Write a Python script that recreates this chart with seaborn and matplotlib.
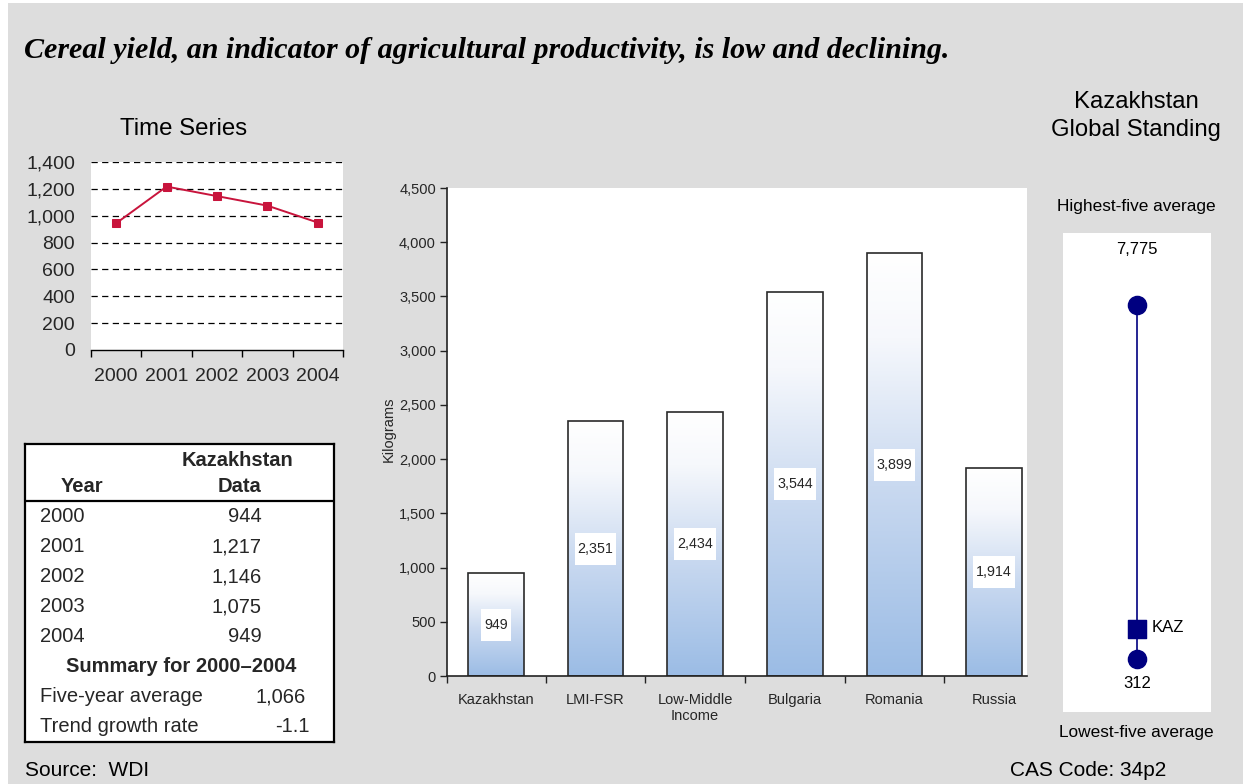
import numpy as np
import pandas as pd
import matplotlib
matplotlib.use("Agg")
import matplotlib.pyplot as plt
import seaborn as sns
from matplotlib.patches import Rectangle
from matplotlib.colors import LinearSegmentedColormap
from matplotlib.ticker import FuncFormatter

# ---- data -------------------------------------------------------------
years = ["2000", "2001", "2002", "2003", "2004"]
kaz_yield = [944, 1217, 1146, 1075, 949]
five_year_avg = "1,066"
trend_growth = "-1.1"

groups = ["Kazakhstan", "LMI-FSR", "Low-Middle\nIncome", "Bulgaria", "Romania", "Russia"]
group_yield = [949, 2351, 2434, 3544, 3899, 1914]

highest_five = 7775
lowest_five = 312
kaz_latest = 949

# ---- style ------------------------------------------------------------
sns.set_theme(style="white")
plt.rcParams["font.family"] = ["Liberation Sans", "DejaVu Sans"]

W, H = 1249, 784
fig = plt.figure(figsize=(W / 100, H / 100), dpi=100)
fig.patch.set_facecolor("white")

PANEL = "#DDDDDD"
RED = "#C8143C"
NAVY = "#000080"


def px_axes(x0, y0, x1, y1):
    return fig.add_axes([x0 / W, 1 - y1 / H, (x1 - x0) / W, (y1 - y0) / H])


def ftext(x, y, s, **kw):
    kw.setdefault("va", "center")
    kw.setdefault("color", "black")
    return fig.text(x / W, 1 - y / H, s, **kw)


# grey panel behind everything
fig.add_artist(Rectangle((8 / W, 0), (1243 - 8) / W, (784 - 3) / H,
                         transform=fig.transFigure, facecolor=PANEL,
                         edgecolor="none", zorder=0))

ftext(24, 50, "Cereal yield, an indicator of agricultural productivity, is low and declining.",
      family=["Liberation Serif", "DejaVu Serif"], style="italic", weight="bold", size=21.6)

# ---- time series ------------------------------------------------------
ftext(184, 129, "Time Series", ha="center", size=17.3)
ax1 = px_axes(91, 162, 343, 350)
ax1.set_facecolor("white")
df_ts = pd.DataFrame({"year": years, "yield": kaz_yield})
sns.lineplot(data=df_ts, x="year", y="yield", ax=ax1, color=RED, lw=1.4,
             marker="s", markersize=5.5, markeredgecolor=RED, zorder=3)
ax1.set_xlim(-0.5, 4.5)
ax1.set_ylim(0, 1400)
ax1.set_yticks(range(0, 1401, 200))
ax1.yaxis.set_major_formatter(FuncFormatter(lambda v, p: f"{int(v):,}"))
for v in range(200, 1401, 200):
    ax1.axhline(v, color="black", lw=0.9, ls=(0, (5, 3.5)), zorder=1)
for s in ("left", "right", "top"):
    ax1.spines[s].set_visible(False)
ax1.spines["bottom"].set_color("black")
ax1.spines["bottom"].set_linewidth(1.0)
ax1.set_xticks(np.arange(-0.5, 4.6, 1.0), minor=True)
ax1.tick_params(axis="x", which="minor", length=5, width=1, color="black", direction="out", bottom=True)
ax1.tick_params(axis="x", which="major", length=0, pad=13, labelsize=14)
ax1.tick_params(axis="y", length=0, pad=11.5, labelsize=14)
ax1.set_xlabel("")
ax1.set_ylabel("")

# ---- summary table ----------------------------------------------------
ax4 = px_axes(25, 444, 334, 742)
ax4.set_facecolor("white")
ax4.set_xlim(25, 334)
ax4.set_ylim(742, 444)
ax4.set_xticks([])
ax4.set_yticks([])
for s in ax4.spines.values():
    s.set_color("black")
    s.set_linewidth(1.6)
ax4.axhline(500.5, color="black", lw=1.6)
fs = 14.5
ax4.text(238, 461, "Kazakhstan", ha="center", va="center", weight="bold", size=fs)
ax4.text(82, 487, "Year", ha="center", va="center", weight="bold", size=fs)
ax4.text(240, 487, "Data", ha="center", va="center", weight="bold", size=fs)
row_y = [517, 547, 577, 607, 637]
for yr, val, ry in zip(years, kaz_yield, row_y):
    ax4.text(40, ry, yr, ha="left", va="center", size=fs)
    ax4.text(262, ry, f"{val:,}", ha="right", va="center", size=fs)
ax4.text(181, 667, "Summary for 2000\u20132004", ha="center", va="center", weight="bold", size=fs)
ax4.text(40, 697, "Five-year average", ha="left", va="center", size=fs)
ax4.text(306, 697, five_year_avg, ha="right", va="center", size=fs)
ax4.text(40, 727, "Trend growth rate", ha="left", va="center", size=fs)
ax4.text(310, 727, trend_growth, ha="right", va="center", size=fs)

# ---- comparison bars --------------------------------------------------
ax2 = px_axes(447, 188, 1027, 676)
ax2.set_facecolor("white")
df_bar = pd.DataFrame({"group": groups, "yield": group_yield})
sns.barplot(data=df_bar, x="group", y="yield", ax=ax2, width=0.56, color="white",
            saturation=1, edgecolor="#2a2a2a", linewidth=1.2, zorder=2)
XL = (-0.49, 5.33)
YL = (0, 4500)
cmap = LinearSegmentedColormap.from_list(
    "bar_fade", [(0.0, "#FFFFFF"), (0.2, "#F6F8FC"), (0.55, "#C9D9F0"), (1.0, "#9BBCE5")])
grad = np.linspace(0, 1, 256).reshape(-1, 1)
for p in ax2.patches:
    x0, w, h = p.get_x(), p.get_width(), p.get_height()
    ax2.imshow(grad, extent=[x0, x0 + w, 0, h], origin="upper", cmap=cmap,
               aspect="auto", zorder=1.5, interpolation="bilinear")
    p.set_facecolor("none")
ax2.set_xlim(*XL)
ax2.set_ylim(*YL)
ax2.set_yticks(range(0, 4501, 500))
ax2.yaxis.set_major_formatter(FuncFormatter(lambda v, p: f"{int(v):,}"))
for s in ("right", "top"):
    ax2.spines[s].set_visible(False)
for s in ("left", "bottom"):
    ax2.spines[s].set_color("#222222")
    ax2.spines[s].set_linewidth(1.2)
ax2.tick_params(axis="y", length=5, width=1, color="#222222", direction="out", left=True,
                labelsize=10.5, pad=3)
ax2.set_xticks([XL[0]] + list(np.arange(0.5, 5, 1.0)), minor=True)
ax2.tick_params(axis="x", which="minor", length=5, width=1, color="#222222", direction="out", bottom=True)
ax2.tick_params(axis="x", which="major", length=0, pad=12, labelsize=10.5)
ax2.set_xlabel("")
ax2.set_ylabel("Kilograms", size=10.5)
ax2.yaxis.set_label_coords(-0.088, 0.505)

# value labels in white boxes, centred on each bar
fig.canvas.draw()
renderer = fig.canvas.get_renderer()
inv = ax2.transData.inverted()
for i, v in enumerate(group_yield):
    t = ax2.text(i, v / 2, f"{v:,}", ha="center", va="center", size=10.3, zorder=5)
    bb = t.get_window_extent(renderer)
    (dx0, dy0) = inv.transform((bb.x0 - 3, (bb.y0 + bb.y1) / 2 - 16))
    (dx1, dy1) = inv.transform((bb.x1 + 3, (bb.y0 + bb.y1) / 2 + 16))
    ax2.add_patch(Rectangle((dx0, dy0), dx1 - dx0, dy1 - dy0, facecolor="white",
                            edgecolor="none", zorder=4))

# ---- global standing --------------------------------------------------
ftext(1136, 102, "Kazakhstan", ha="center", size=17.2)
ftext(1136, 130, "Global Standing", ha="center", size=17.2)
ftext(1136, 206, "Highest-five average", ha="center", size=12.4)
ftext(1136, 733, "Lowest-five average", ha="center", size=12.4)

box_top, box_bot = 233, 712
ax3 = px_axes(1063, box_top, 1211, box_bot)
ax3.set_facecolor("white")
top_px, bot_px = 305, 659
per_px = (highest_five - lowest_five) / (bot_px - top_px)
ax3.set_ylim(lowest_five - (box_bot - bot_px) * per_px, highest_five + (top_px - box_top) * per_px)
ax3.set_xlim(-1, 1)
ax3.plot([0, 0], [lowest_five, highest_five], color=NAVY, lw=1.2, zorder=1)
df_ends = pd.DataFrame({"x": [0, 0], "v": [lowest_five, highest_five]})
sns.scatterplot(data=df_ends, x="x", y="v", ax=ax3, marker="o", s=170,
                color=NAVY, edgecolor=NAVY, zorder=3)
sns.scatterplot(x=[0], y=[kaz_latest], ax=ax3, marker="s", s=170,
                color=NAVY, edgecolor=NAVY, zorder=3)
ax3.set_xticks([])
ax3.set_yticks([])
ax3.set_xlabel("")
ax3.set_ylabel("")
for s in ax3.spines.values():
    s.set_visible(False)
ftext(1137, 250, f"{highest_five:,}", ha="center", size=12)
ftext(1137, 684, f"{lowest_five:,}", ha="center", size=12)
ftext(1152, 628, "KAZ", ha="left", size=12)

# ---- footer -----------------------------------------------------------
ftext(25, 771, "Source:  WDI", ha="left", size=15)
ftext(1010, 771, "CAS Code: 34p2", ha="left", size=15)

fig.savefig("out.png", dpi=100, facecolor=fig.get_facecolor())
